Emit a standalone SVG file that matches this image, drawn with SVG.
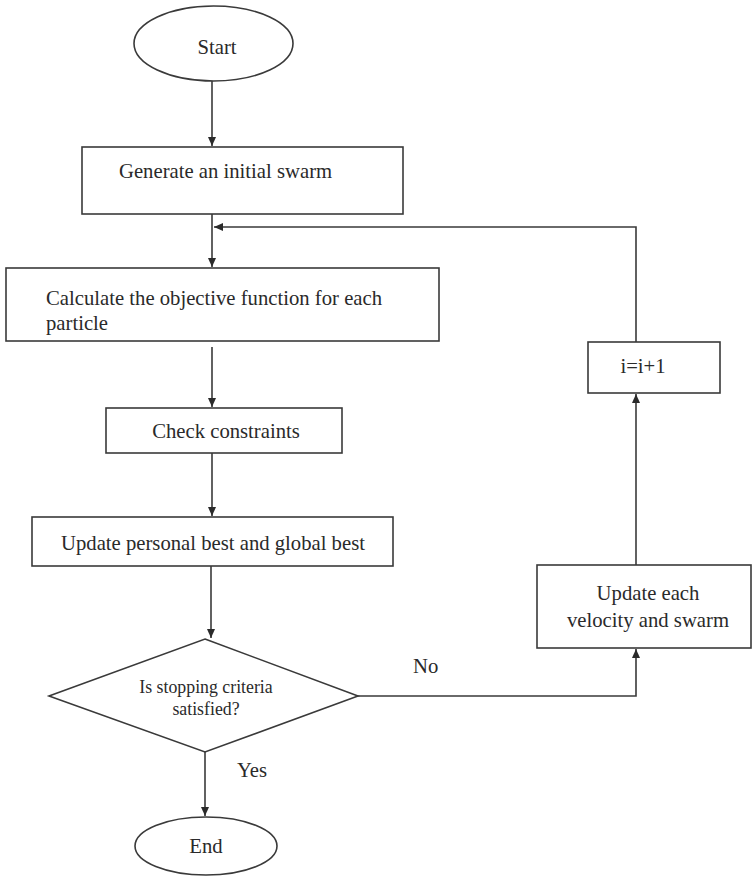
<svg xmlns="http://www.w3.org/2000/svg" width="753" height="877" viewBox="0 0 753 877">
<style>
.s{fill:#fff;stroke:#3a3a3a;stroke-width:1.6}
.t{font-family:"Liberation Serif","Times New Roman",serif;font-size:20.7px;fill:#2a2a2a}
.sm{font-size:17.8px}
.c{fill:none;stroke:#3a3a3a;stroke-width:1.6}
</style>
<defs>
<marker id="ah" markerWidth="10" markerHeight="10" refX="9" refY="5" orient="auto" markerUnits="userSpaceOnUse">
<path d="M0,1 L9,5 L0,9 Z" fill="#2a2a2a"/>
</marker>
</defs>
<rect width="753" height="877" fill="#fff"/>
<g id="connectors">
<line class="c" x1="212" y1="81" x2="212" y2="146" marker-end="url(#ah)"/>
<line class="c" x1="212" y1="214" x2="212" y2="267" marker-end="url(#ah)"/>
<polyline class="c" points="636,342 636,227 214,227" marker-end="url(#ah)"/>
<line class="c" x1="212" y1="347" x2="212" y2="407" marker-end="url(#ah)"/>
<line class="c" x1="212" y1="453" x2="212" y2="516" marker-end="url(#ah)"/>
<line class="c" x1="211" y1="566" x2="211" y2="638" marker-end="url(#ah)"/>
<line class="c" x1="205" y1="752" x2="205" y2="816" marker-end="url(#ah)"/>
<polyline class="c" points="358,696 636,696 636,649" marker-end="url(#ah)"/>
<line class="c" x1="636" y1="565" x2="636" y2="394" marker-end="url(#ah)"/>
<text class="t" x="413" y="673">No</text>
<text class="t" x="237" y="777">Yes</text>
</g>
<g id="start">
<ellipse class="s" cx="213.5" cy="43.5" rx="79.5" ry="37.5"/>
<text class="t" x="217" y="54" text-anchor="middle">Start</text>
</g>
<g id="generate">
<rect class="s" x="82" y="147" width="321" height="67"/>
<text class="t" x="119" y="178">Generate an initial swarm</text>
</g>
<g id="calculate">
<rect class="s" x="6" y="268" width="433" height="73"/>
<text class="t" x="46" y="305">Calculate the objective function for each</text>
<text class="t" x="46" y="330">particle</text>
</g>
<g id="check">
<rect class="s" x="106" y="408" width="236" height="45"/>
<text class="t" x="226" y="438" text-anchor="middle">Check constraints</text>
</g>
<g id="update-best">
<rect class="s" x="32" y="517" width="361" height="49"/>
<text class="t" x="213" y="550" text-anchor="middle">Update personal best and global best</text>
</g>
<g id="decision">
<polygon class="s" points="205,639 358,696 205,752 49,696"/>
<text class="t sm" x="206" y="693" text-anchor="middle">Is stopping criteria</text>
<text class="t sm" x="206" y="715" text-anchor="middle">satisfied?</text>
</g>
<g id="end">
<ellipse class="s" cx="206" cy="846" rx="71" ry="29"/>
<text class="t" x="206" y="853" text-anchor="middle">End</text>
</g>
<g id="increment">
<rect class="s" x="588" y="342" width="132" height="51"/>
<text class="t" x="643" y="373" text-anchor="middle">i=i+1</text>
</g>
<g id="update-velocity">
<rect class="s" x="537" y="565" width="214" height="83"/>
<text class="t" x="648" y="600" text-anchor="middle">Update each</text>
<text class="t" x="648" y="627" text-anchor="middle">velocity and swarm</text>
</g>
</svg>
